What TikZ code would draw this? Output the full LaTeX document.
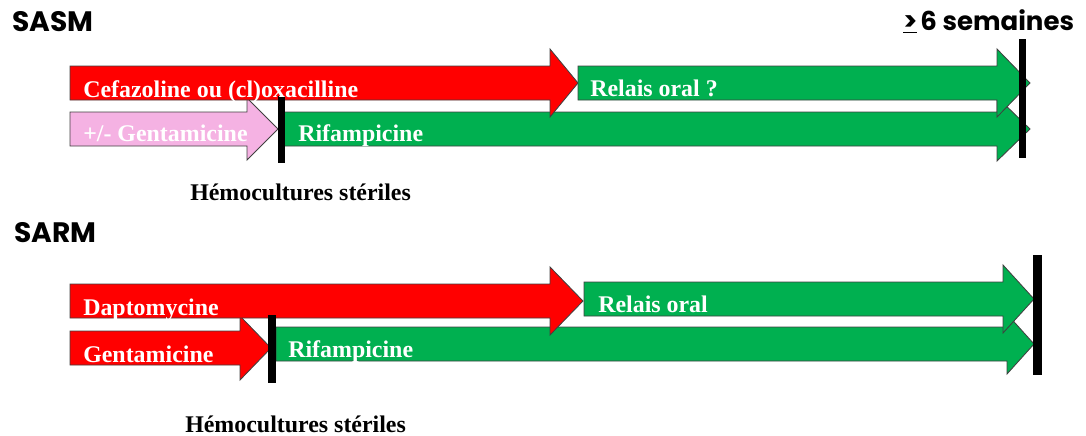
\documentclass[tikz,border=0pt]{standalone}
\usepackage{fontspec}
\setmainfont{Liberation Serif}
\newfontfamily\headfont{Poppins}
\usetikzlibrary{positioning}
\definecolor{rouge}{RGB}{255,0,0}
\definecolor{vert}{RGB}{0,176,80}
\definecolor{rose}{RGB}{245,178,227}
\tikzset{
  fleche/.style = {draw=black!75, line width=0.6pt},
  barre/.style  = {fill=black},
  lab/.style    = {anchor=base west, text=white, inner sep=0pt,
                   font=\fontsize{17}{20}\selectfont\bfseries},
  hemo/.style   = {anchor=base west, inner sep=0pt,
                   font=\fontsize{17}{20}\selectfont\bfseries},
  titre/.style  = {anchor=base west, inner sep=0pt,
                   font=\headfont\fontsize{20}{24}\selectfont\bfseries}
}
% #1 debut, #2 base pointe, #3 pointe, #4 axe, #5 demi-pointe, #6 couleur
\newcommand{\fleche}[6]{%
  \draw[fleche, fill=#6] (#1,#4-17) -- (#2,#4-17) -- (#2,#4-#5) -- (#3,#4)
    -- (#2,#4+#5) -- (#2,#4+17) -- (#1,#4+17) -- cycle;}

\begin{document}
\begin{tikzpicture}[x=0.025cm, y=-0.025cm]
    \useasboundingbox (0,0) rectangle (1086,435);
    % SASM
    \node[titre] (sasm) at (12,31) {SASM};
    \node[titre, font=\headfont\fontsize{18.5}{22}\selectfont\bfseries] (semaines)
      at (903,30) {\underline{\smash{>}}\hspace{0.12em}6 semaines};
    \fleche{282}{997}{1030}{129}{32}{vert}
    \fleche{70}{247}{278}{129}{31}{rose}
    \fleche{70}{550}{578}{83}{34}{rouge}
    \fleche{578}{997}{1030}{83}{34}{vert}
    \fill[barre] (278,96) rectangle (285,163);
    \fill[barre] (1019,39) rectangle (1026,158);
    \node[lab] (cefa) at (83,97) {Cefazoline ou (cl)oxacilline};
    \node[lab] (relais1) at (590,96) {Relais oral ?};
    \node[lab] (genta1) at (83,141) {+/- Gentamicine};
    \node[lab] (rifa1) at (298,141) {Rifampicine};
    \node[hemo] (hemo1) at (190,200) {Hémocultures stériles};
    % SARM
    \node[titre] (sarm) at (14,242) {SARM};
    \fleche{276}{1007}{1034}{344}{30}{vert}
    \fleche{70}{240}{271}{348}{32}{rouge}
    \fleche{70}{550}{583}{301}{34}{rouge}
    \fleche{584}{1003}{1034}{299}{34}{vert}
    \fill[barre] (268,315) rectangle (276,383);
    \fill[barre] (1033,255) rectangle (1042,375);
    \node[lab] (dapto) at (83,315) {Daptomycine};
    \node[lab] (relais2) at (598,312) {Relais oral};
    \node[lab] (genta2) at (83,362) {Gentamicine};
    \node[lab] (rifa2) at (288,357) {Rifampicine};
    \node[hemo] (hemo2) at (185,432) {Hémocultures stériles};
\end{tikzpicture}
\end{document}
